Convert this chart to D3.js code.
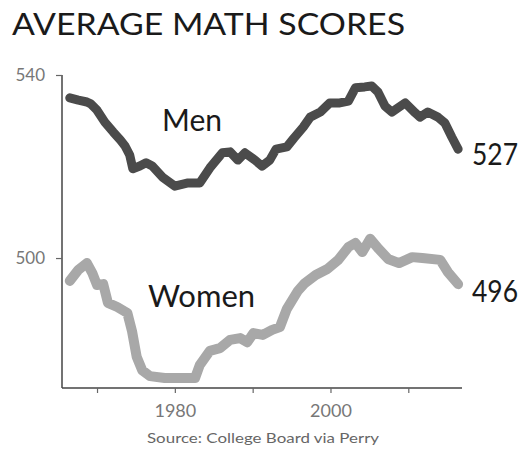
<!DOCTYPE html>
<html>
<head>
<meta charset="utf-8">
<script src="https://cdn.jsdelivr.net/npm/d3@7"></script>
<style>
  html, body { margin: 0; padding: 0; background: #fff; }
  svg { display: block; }
</style>
</head>
<body>
<svg id="chart" width="523" height="454"></svg>
<script>
const title = "AVERAGE MATH SCORES";
const source = "Source: College Board via Perry";

const menYears = [1966.5,1967.6,1968.7,1969.2,1970.0,1971.0,1972.1,1973.0,1973.6,1974.2,1974.6,1975.5,1976.3,1977.1,1978.4,1980.0,1981.7,1983.2,1984.5,1986.1,1987.1,1988.1,1989.0,1990.3,1991.2,1992.2,1993.0,1994.4,1995.3,1996.5,1997.4,1998.7,1999.9,2001.2,2002.3,2003.2,2004.4,2005.3,2006.1,2007.0,2007.9,2009.6,2010.9,2011.5,2012.5,2013.8,2014.7,2015.6,2016.4];
const menScores = [535.0,534.5,534.1,533.7,532.3,529.7,527.5,525.8,524.5,522.5,519.5,520.1,520.8,520.1,517.7,515.7,516.4,516.4,519.7,523.0,523.2,521.4,523.0,521.4,520.1,521.4,523.8,524.3,526.2,528.6,530.8,531.9,533.9,533.9,534.3,537.2,537.4,537.6,536.3,533.2,531.9,533.9,531.7,530.8,531.9,530.8,529.5,526.4,523.8];

const womenYears = [1966.5,1967.6,1968.7,1969.4,1970.0,1970.8,1971.4,1972.6,1973.9,1974.5,1975.1,1975.8,1976.8,1978.7,1980.9,1982.6,1983.2,1984.5,1985.8,1987.1,1988.4,1989.3,1990.1,1991.3,1992.5,1993.5,1994.4,1995.8,1996.7,1998.1,1999.6,2001.0,2002.3,2003.2,2004.1,2005.1,2006.2,2007.4,2008.8,2010.5,2011.8,2014.1,2015.1,2016.4];
const womenScores = [495.0,497.4,498.9,496.7,494.1,494.3,490.2,489.3,488.0,484.0,478.4,475.5,474.2,473.8,473.8,473.8,476.6,479.7,480.3,482.1,482.5,481.6,483.6,483.2,484.3,484.9,488.9,492.8,494.5,496.3,497.6,499.6,502.4,503.3,501.3,504.2,502.0,499.8,498.9,500.2,500.0,499.6,496.9,494.3];

const yTicks = [500, 540];
const xTicks = [1970, 1980, 1990, 2000, 2010];
const xTickLabels = ["", "1980", "", "2000", ""];
const seriesNames = ["Men", "Women"];
const endLabels = ["527", "496"];

const svg = d3.select("#chart");
const font = "Lato, 'Open Sans', sans-serif";

const x = d3.scaleLinear().domain([1965.5, 2016.9]).range([62, 462]);
const y = d3.scaleLinear().domain([471.6, 540]).range([388, 75]);

// Title
svg.append("text")
  .attr("x", 12).attr("y", 35)
  .attr("font-family", font).attr("font-size", 30)
  .attr("fill", "#1a1a1a")
  .attr("textLength", 393).attr("lengthAdjust", "spacingAndGlyphs")
  .text(title);

// Y axis
const yAxis = d3.axisLeft(y).tickValues(yTicks).tickSize(6).tickSizeOuter(0).tickFormat(d3.format("d"));
const gy = svg.append("g").attr("transform", "translate(62,0)").call(yAxis);
gy.select(".domain").attr("stroke", "#444").attr("stroke-width", 1.5)
  .attr("d", `M0,${y(540)}V${388}`);
gy.selectAll(".tick line").attr("stroke", "#666").attr("stroke-width", 1.2);
gy.selectAll(".tick text")
  .attr("font-family", font).attr("font-size", 17).attr("fill", "#777")
  .attr("x", -17).attr("dy", "0.32em");

// X axis
const xAxis = d3.axisBottom(x).tickValues(xTicks).tickSize(5).tickSizeOuter(0)
  .tickFormat((d, i) => xTickLabels[i]);
const gx = svg.append("g").attr("transform", "translate(0,388)").call(xAxis);
gx.select(".domain").attr("stroke", "#444").attr("stroke-width", 1.5)
  .attr("d", `M62,0H462`);
gx.selectAll(".tick line").attr("stroke", "#666").attr("stroke-width", 1.2);
gx.selectAll(".tick text")
  .attr("font-family", font).attr("font-size", 18).attr("fill", "#777")
  .attr("y", 16).attr("dy", "0.71em");

// Lines
const line = d3.line().x(d => x(d[0])).y(d => y(d[1])).curve(d3.curveLinear);
const menData = menYears.map((t, i) => [t, menScores[i]]);
const womenData = womenYears.map((t, i) => [t, womenScores[i]]);

svg.append("path").datum(womenData)
  .attr("d", line).attr("fill", "none")
  .attr("stroke", "#a8a8a8").attr("stroke-width", 10)
  .attr("stroke-linejoin", "round").attr("stroke-linecap", "round");

svg.append("path").datum(menData)
  .attr("d", line).attr("fill", "none")
  .attr("stroke", "#4b4b4b").attr("stroke-width", 9)
  .attr("stroke-linejoin", "round").attr("stroke-linecap", "round");

// Series labels
svg.append("text").attr("x", 162).attr("y", 131)
  .attr("font-family", font).attr("font-size", 30).attr("fill", "#1a1a1a")
  .text(seriesNames[0]);
svg.append("text").attr("x", 148).attr("y", 307)
  .attr("font-family", font).attr("font-size", 31).attr("fill", "#1a1a1a")
  .text(seriesNames[1]);

// End labels
svg.append("text").attr("x", 472).attr("y", 165)
  .attr("font-family", font).attr("font-size", 30).attr("fill", "#1a1a1a")
  .attr("textLength", 46).attr("lengthAdjust", "spacingAndGlyphs")
  .text(endLabels[0]);
svg.append("text").attr("x", 472).attr("y", 302)
  .attr("font-family", font).attr("font-size", 30).attr("fill", "#1a1a1a")
  .attr("textLength", 46).attr("lengthAdjust", "spacingAndGlyphs")
  .text(endLabels[1]);

// Source
svg.append("text").attr("x", 263).attr("y", 443)
  .attr("text-anchor", "middle")
  .attr("font-family", font).attr("font-size", 14).attr("fill", "#666")
  .attr("textLength", 232).attr("lengthAdjust", "spacingAndGlyphs")
  .text(source);
</script>
</body>
</html>
